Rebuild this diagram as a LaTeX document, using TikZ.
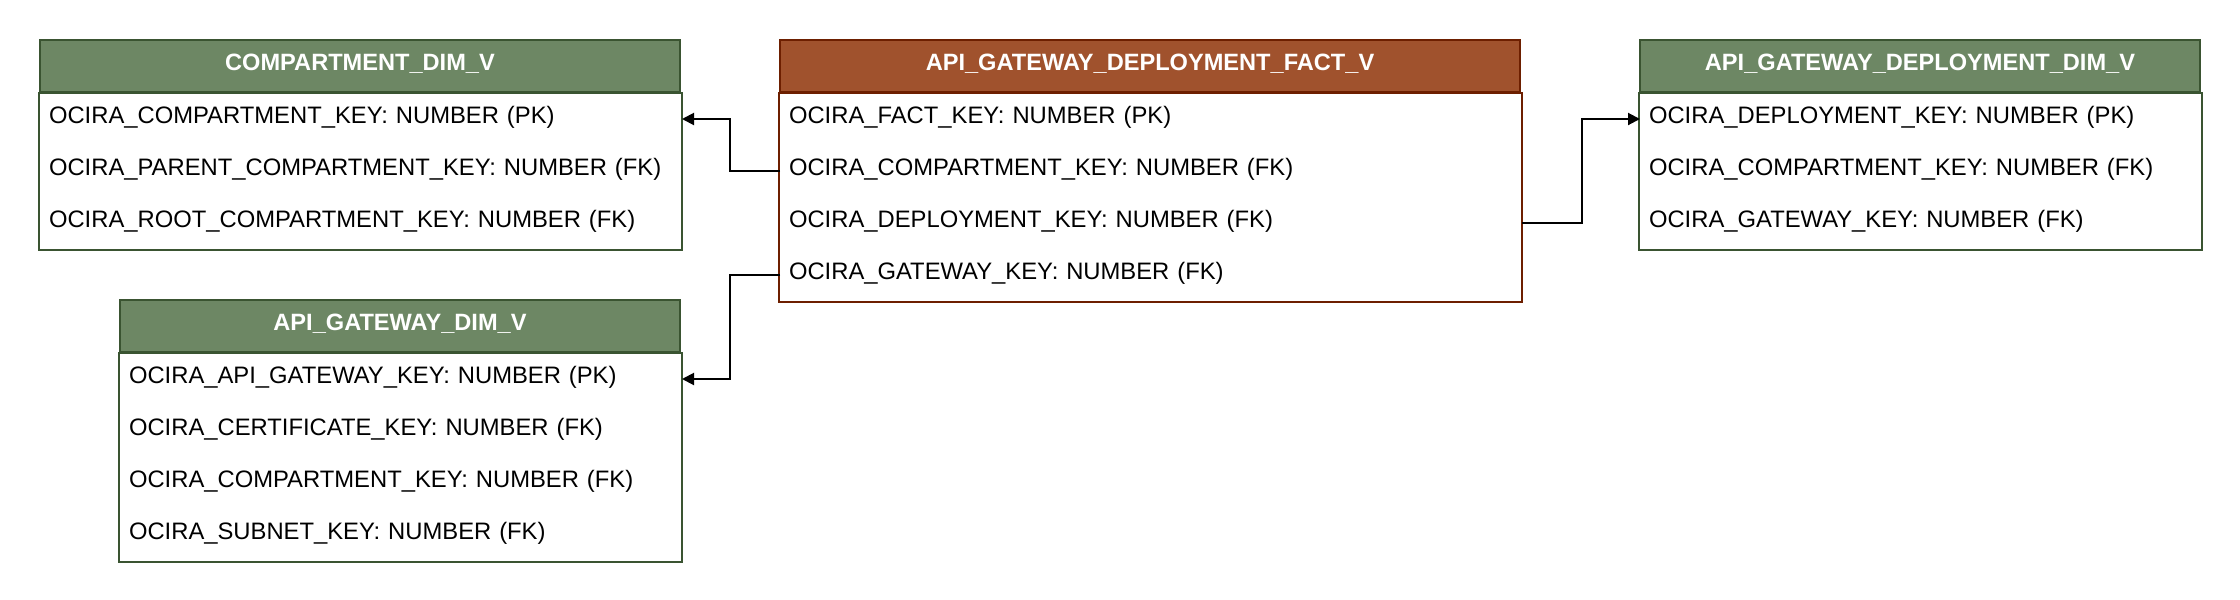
\documentclass[tikz,border=0pt]{standalone}
\usepackage{fontspec}
\setmainfont{Liberation Sans}
\usetikzlibrary{arrows.meta}
\definecolor{dimfill}{HTML}{6D8764}
\definecolor{dimline}{HTML}{3A5431}
\definecolor{factfill}{HTML}{A0522D}
\definecolor{factline}{HTML}{6D1F00}
\tikzset{every picture/.style={line width=1pt}}
\tikzset{
	tblfont/.style={font=\fontsize{11.9}{14}\selectfont},
	dimhead/.style={draw=dimline,fill=dimfill,text=white,font=\bfseries\fontsize{11.8}{14}\selectfont,minimum height=26pt,inner sep=0pt,text height=8.6pt,text depth=4pt},
	facthead/.style={dimhead,draw=factline,fill=factfill},
	tblrow/.style={tblfont,anchor=north west,minimum height=26pt,inner xsep=4pt,inner ysep=0pt,text width=#1,align=left,text height=8.6pt,text depth=4pt}
}

\begin{document}
\begin{tikzpicture}[>={Stealth[inset=0pt,length=6pt,width=6pt]},x=0.5pt,y=-0.5pt]
	\useasboundingbox (0,0) rectangle (2240,600);
	%Bang 1
	\node[dimhead,minimum width=320pt] (cph) at (360,66) {COMPARTMENT\_DIM\_V};
	\node[tblrow=312pt] (c1) at (40,92) {OCIRA\_COMPARTMENT\_KEY: NUMBER (PK)};
	\node[tblrow=312pt] (c2) at (40,144) {OCIRA\_PARENT\_COMPARTMENT\_KEY: NUMBER (FK)};
	\node[tblrow=312pt] (c3) at (40,196) {OCIRA\_ROOT\_COMPARTMENT\_KEY: NUMBER (FK)};
	\draw[dimline] (cph.south west) rectangle (c3.south east);
	%Bang 2
	\node[dimhead,minimum width=280pt] (gwh) at (400,326) {API\_GATEWAY\_DIM\_V};
	\node[tblrow=272pt] (g1) at (120,352) {OCIRA\_API\_GATEWAY\_KEY: NUMBER (PK)};
	\node[tblrow=272pt] (g2) at (120,404) {OCIRA\_CERTIFICATE\_KEY: NUMBER (FK)};
	\node[tblrow=272pt] (g3) at (120,456) {OCIRA\_COMPARTMENT\_KEY: NUMBER (FK)};
	\node[tblrow=272pt] (g4) at (120,508) {OCIRA\_SUBNET\_KEY: NUMBER (FK)};
	\draw[dimline] (gwh.south west) rectangle (g4.south east);
	%Bang fact
	\node[facthead,minimum width=370pt] (fh) at (1150,66) {API\_GATEWAY\_DEPLOYMENT\_FACT\_V};
	\node[tblrow=362pt] (f1) at (780,92) {OCIRA\_FACT\_KEY: NUMBER (PK)};
	\node[tblrow=362pt] (f2) at (780,144) {OCIRA\_COMPARTMENT\_KEY: NUMBER (FK)};
	\node[tblrow=362pt] (f3) at (780,196) {OCIRA\_DEPLOYMENT\_KEY: NUMBER (FK)};
	\node[tblrow=362pt] (f4) at (780,248) {OCIRA\_GATEWAY\_KEY: NUMBER (FK)};
	\draw[factline] (fh.south west) rectangle (f4.south east);
	%Bang 3
	\node[dimhead,minimum width=280pt] (dph) at (1920,66) {API\_GATEWAY\_DEPLOYMENT\_DIM\_V};
	\node[tblrow=272pt] (d1) at (1640,92) {OCIRA\_DEPLOYMENT\_KEY: NUMBER (PK)};
	\node[tblrow=272pt] (d2) at (1640,144) {OCIRA\_COMPARTMENT\_KEY: NUMBER (FK)};
	\node[tblrow=272pt] (d3) at (1640,196) {OCIRA\_GATEWAY\_KEY: NUMBER (FK)};
	\draw[dimline] (dph.south west) rectangle (d3.south east);
	%Mui ten
	\draw[->] (f2.west) -- ++(-50,0) |- (c1.east);
	\draw[->] (f4.west) -- ++(-50,0) |- (g1.east);
	\draw[->] (f3.east) -- ++(60,0) |- (d1.west);
\end{tikzpicture}
\end{document}
